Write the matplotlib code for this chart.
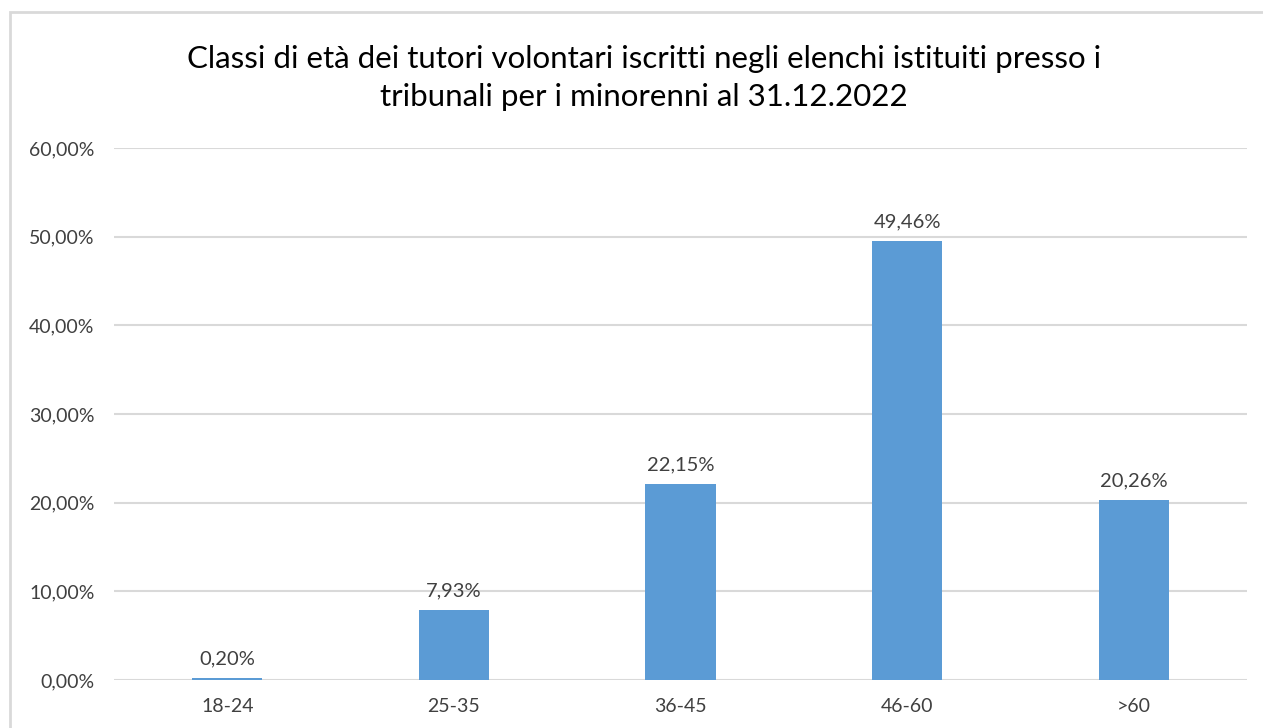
import matplotlib.pyplot as plt
from matplotlib.patches import Rectangle
from matplotlib.ticker import FuncFormatter

categories = ['18-24', '25-35', '36-45', '46-60', '>60']
values = [0.20, 7.93, 22.15, 49.46, 20.26]
labels = ['0,20%', '7,93%', '22,15%', '49,46%', '20,26%']
title = ('Classi di età dei tutori volontari iscritti negli elenchi istituiti presso i\n'
         'tribunali per i minorenni al 31.12.2022')

plt.rcParams['font.family'] = ['Lato', 'DejaVu Sans']

W, H = 1263, 728
fig = plt.figure(figsize=(W / 100, H / 100), dpi=100)

# bordo grigio del riquadro
fig.patches.append(Rectangle((10 / W, -0.1), 1.2, (H - 12) / H + 0.1,
                             transform=fig.transFigure, fill=False,
                             edgecolor='#D9D9D9', linewidth=2))

ax = fig.add_axes([114 / W, (H - 680) / H, (1247 - 114) / W, (680 - 148) / H])
x = range(len(categories))
ax.bar(x, values, width=0.31, color='#5B9BD5', zorder=3)
for i, v in enumerate(values):
    ax.text(i, v + 1.2, labels[i], ha='center', va='bottom', fontsize=14.5, color='#404040')

ax.set_xlim(-0.5, 4.5)
ax.set_ylim(0, 60)
ax.set_yticks(range(0, 61, 10))
ax.yaxis.set_major_formatter(FuncFormatter(lambda v, p: f'{v:.2f}'.replace('.', ',') + '%'))
ax.set_xticks(list(x))
ax.set_xticklabels(categories)
ax.tick_params(axis='both', length=0, labelsize=14, labelcolor='#404040')
ax.tick_params(axis='y', pad=14)
ax.tick_params(axis='x', pad=13)
ax.grid(axis='y', color='#D9D9D9', linewidth=1.5, zorder=0)
for s in ax.spines.values():
    s.set_visible(False)

fig.text(644 / W, (H - 78) / H, title, ha='center', va='center',
         fontsize=22.5, color='#000000', linespacing=1.42)

fig.savefig('out.png', dpi=100)
